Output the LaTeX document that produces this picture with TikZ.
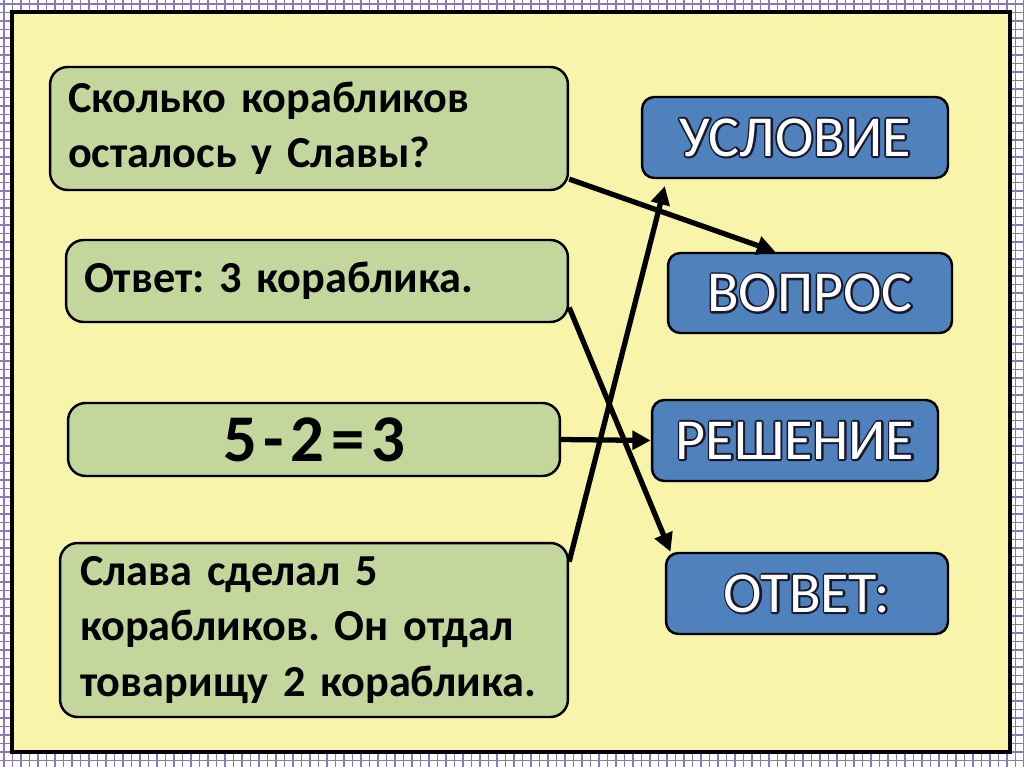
\documentclass[tikz,border=0pt]{standalone}
\usepackage{fontspec}
\setmainfont{Carlito}
\usetikzlibrary{arrows.meta}
\definecolor{gridviolet}{HTML}{8A78C0}
\definecolor{panelyellow}{HTML}{F8F4AA}
\definecolor{notegreen}{HTML}{C3D69B}
\definecolor{tagblue}{HTML}{4F81BD}
\newcommand\outlineword[1]{\rlap{\special{pdf:literal direct 1 Tr 2.2 w 1 j 0.1 0.1 0.18 RG}#1\special{pdf:literal direct 0 Tr}}#1}
\tikzset{
  slgrid/.style={line width=1.1pt, draw=gridviolet},
  slpanel/.style={fill=panelyellow, draw=black, line width=2.4pt},
  slnote/.style={draw=black, fill=notegreen, line width=1.4pt, rounded corners=10pt,
    inner xsep=0.36cm, inner ysep=0pt, align=left,
    font=\fontsize{25.2}{31.5}\selectfont\bfseries\frenchspacing},
  sltag/.style={draw=black, fill=tagblue, line width=1.4pt, rounded corners=7pt,
    minimum height=1.62cm, text=white, font=\fontsize{33}{33}\selectfont},
  slarrow/.style={line width=3pt, -{Triangle[length=10.5pt,width=10.5pt]}},
}

\begin{document}
\begin{tikzpicture}[x=0.02cm, y=-0.02cm]
\useasboundingbox (0,0) rectangle (1024,767);
\fill[white] (0,0) rectangle (1024,767);
\foreach \gx in {4,12.5,...,1024} \draw[slgrid] (\gx,0) -- (\gx,767);
\foreach \gy in {4,12.5,...,767} \draw[slgrid] (0,\gy) -- (1024,\gy);
\draw[slpanel] (12,12) rectangle (1010,752);

% left notes
\node[slnote, text width=9.64cm, minimum height=2.46cm] (g1) at (309,128.5)
  {Сколько корабликов\\осталось у Славы?};
\node[slnote, text width=9.32cm, minimum height=1.64cm] (g2) at (317,281)
  {Ответ: 3 кораблика.};
\node[slnote, text width=9.12cm, minimum height=1.46cm, align=center,
  font=\fontsize{38}{38}\selectfont\bfseries] (g3) at (314,439.5)
  {\spaceskip=0.1em 5 - 2 = 3};
\node[slnote, text width=9.36cm, minimum height=3.48cm, inner xsep=0.4cm] (g4) at (314,630)
  {Слава сделал 5\\корабликов. Он отдал\\товарищу 2 кораблика.};

% right tags
\node[sltag, minimum width=6.12cm] (b1) at (795,137.5) {\outlineword{УСЛОВИЕ}};
\node[sltag, minimum width=5.68cm, minimum height=1.6cm] (b2) at (810,293) {\outlineword{ВОПРОС}};
\node[sltag, minimum width=5.72cm] (b3) at (795,440.5) {\outlineword{РЕШЕНИЕ}};
\node[sltag, minimum width=5.64cm] (b4) at (807,593.5) {\outlineword{ОТВЕТ:}};

% connectors
\draw[slarrow] (g1.-11) -- (b2.130);
\draw[slarrow, shorten >=4pt] (g4.15) -- (b1.198);
\draw[slarrow] (g2.-6) -- (b4.163);
\draw[slarrow] (g3.east) -- (b3.west);
\end{tikzpicture}
\end{document}
